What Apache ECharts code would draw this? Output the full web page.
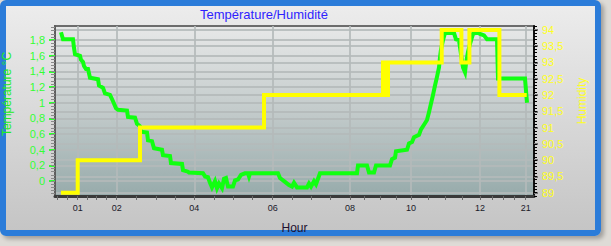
<!DOCTYPE html>
<html>
<head>
<meta charset="utf-8">
<script src="https://cdn.jsdelivr.net/npm/echarts@6/dist/echarts.min.js"></script>
<style>
  html, body { margin: 0; padding: 0; width: 611px; height: 246px; background: #dedbd6; overflow: hidden; }
  #frame { position: absolute; left: 0; top: 0; width: 601px; height: 236px; box-sizing: border-box;
           border: 6px solid #2b7cd9; border-radius: 6px;
           background: linear-gradient(#ececec, #c5c5c5);
           box-shadow: 3px 3px 4px rgba(0,0,0,0.28); }
  #chart { position: absolute; left: 0; top: 0; width: 611px; height: 246px; }
</style>
</head>
<body>
<div id="frame"></div>
<div id="chart"></div>
<script>
// ---- data (x = sample number along the logger's record) ----
const tempSample = [3,4,9,9.5,10,12.5,13,14,14.5,15.5,16.5,17.5,21.5,22,24,25,27.5,29,30.5,31.5,36,36.5,40,41,42.5,43,46,46.5,48.5,49.5,53.5,54,57.5,58,63.5,64,66.5,67,74,75,76.5,77.5,78.5,80,81,82,83.5,84.5,85.5,86.5,89,90,91.5,93,95,96.5,97,97.5,111.5,112.5,115,117,118.5,119.5,121,126,127,128,129.5,130.5,131.5,132.5,151,151.5,156,157,159.5,160.5,167.5,168.5,170,170.5,176,177,178.5,179.5,182,183,184.5,186,187,188,189,190,191,192,192.5,193,194,195,199.5,200.5,202,203,204,205,205.5,206.5,207.5,209,211,212.5,214.5,216,221,221.5,235,236];
const tempValue  = [1.90,1.81,1.81,1.70,1.62,1.60,1.55,1.52,1.47,1.43,1.43,1.32,1.30,1.22,1.19,1.12,1.10,1.02,0.93,0.91,0.90,0.82,0.81,0.73,0.70,0.63,0.62,0.52,0.51,0.42,0.40,0.33,0.32,0.23,0.22,0.14,0.12,0.11,0.10,0.06,0.05,-0.02,-0.08,0.00,-0.09,-0.03,-0.09,0.03,0.04,-0.07,-0.07,0.01,0.02,0.08,0.10,0.10,0.06,0.10,0.10,0.04,-0.01,-0.05,-0.07,-0.02,-0.08,-0.08,-0.03,-0.07,0.00,-0.04,0.03,0.10,0.10,0.20,0.20,0.11,0.11,0.20,0.20,0.28,0.30,0.38,0.40,0.48,0.50,0.56,0.59,0.66,0.72,0.78,0.88,0.99,1.10,1.22,1.33,1.45,1.58,1.68,1.80,1.89,1.89,1.81,1.80,1.62,1.45,1.39,1.50,1.65,1.75,1.88,1.90,1.88,1.86,1.81,1.81,1.31,1.31,1.00];

const humSample = [3,11.35,42.5,104.5,164,165.5,166.5,193.35,203.2,207.2,222.2,235.85];
const humValue  = [89,90,91,92,93,92,93,94,93,94,92,92];

const hourTickSample = [11.35,30.85,69.65,108.85,147.5,178,212.5,235.35];
const hourLabels     = ['01','02','04','06','08','10','12','21'];
const minorTickSample = [1.15,6.15,11.35,16.15,20.85,25.85,30.85,40.85,50.5,60.15,69.85,79.5,89.15,98.85,108.85,118.5,128.35,137.85,147.5,154.85,162.5,170.5,178,186.65,195.35,203.85,212.5,218.5,224.15,229.85,235.35];

const tempTicks = [0,0.2,0.4,0.6,0.8,1,1.2,1.4,1.6,1.8];
const humTicks  = [89,89.5,90,90.5,91,91.5,92,92.5,93,93.5,94];

// ---- build ----
const tempData = tempSample.map((s, i) => [s, tempValue[i]]);
const humData  = humSample.map((s, i) => [s, humValue[i]]);
const tempMinor = [], humMinor = [];
for (let k = -4; k <= 49; k++) tempMinor.push(+(k * 0.04).toFixed(2));
for (let k = 889; k <= 941; k++) humMinor.push(+(k * 0.1).toFixed(1));
const comma = v => String(Math.round(v * 10) / 10).replace('.', ',');
const FONT = 'Liberation Sans, Arial, sans-serif';
const GRIDLINE = { show: true, lineStyle: { color: 'rgba(180,186,186,0.85)', width: 2 } };

const chart = echarts.init(document.getElementById('chart'), null, { renderer: 'svg' });
chart.setOption({
  animation: false,
  backgroundColor: 'transparent',
  title: {
    text: 'Température/Humidité', left: 200, top: 8, padding: 0,
    textStyle: { color: '#2f1fff', fontSize: 13, fontWeight: 'normal', fontFamily: FONT }
  },
  graphic: [
    { type: 'text', x: 7, y: 94, rotation: Math.PI / 2,
      style: { text: 'Température °C', fill: '#22ee22', font: '12px ' + FONT, align: 'center', verticalAlign: 'middle' } },
    { type: 'text', x: 582, y: 101, rotation: Math.PI / 2,
      style: { text: 'Humidity', fill: '#ffff22', font: '12px ' + FONT, align: 'center', verticalAlign: 'middle' } }
  ],
  grid: {
    left: 55, right: 77, top: 26, bottom: 50, show: true,
    borderColor: '#6c6c6c', borderWidth: 2,
    backgroundColor: { type: 'linear', x: 0, y: 0, x2: 0, y2: 1,
      colorStops: [{ offset: 0, color: '#e7e8e8' }, { offset: 0.5, color: '#c3cbcb' }, { offset: 1, color: '#97abab' }] }
  },
  xAxis: [
    { type: 'value', min: 0, max: 239.5, position: 'bottom',
      name: 'Hour', nameLocation: 'middle', nameGap: 26,
      nameTextStyle: { color: '#1e1030', fontSize: 12, fontFamily: FONT },
      axisLine: { show: true, onZero: false, lineStyle: { color: '#3a3a3a', width: 3 } },
      axisTick: { show: false, customValues: hourTickSample },
      axisLabel: { customValues: hourTickSample, color: '#1a1a2a', fontSize: 9, fontFamily: FONT, margin: 7,
        formatter: v => { const i = hourTickSample.findIndex(p => Math.abs(p - v) < 1e-6); return i >= 0 ? hourLabels[i] : ''; } },
      splitLine: GRIDLINE },
    { type: 'value', min: 0, max: 239.5, position: 'bottom',
      axisLine: { show: false, onZero: false },
      axisTick: { show: true, customValues: minorTickSample, length: 4, lineStyle: { color: '#6a6a6a', width: 1 } },
      axisLabel: { show: false }, splitLine: { show: false } }
  ],
  yAxis: [
    { type: 'value', min: -0.19, max: 1.98, position: 'left',
      axisLine: { show: true, onZero: false, lineStyle: { color: '#5e5e5e', width: 2 } },
      axisTick: { show: true, customValues: tempTicks, length: 6, lineStyle: { color: '#33ff33', width: 2 } },
      axisLabel: { customValues: tempTicks, color: '#33ff33', fontSize: 11, fontFamily: FONT, margin: 10, formatter: comma },
      splitLine: GRIDLINE },
    { type: 'value', min: 88.9, max: 94.12, position: 'right',
      axisLine: { show: true, onZero: false, lineStyle: { color: '#111', width: 2 } },
      axisTick: { show: true, customValues: humTicks, length: 4, lineStyle: { color: '#777', width: 2 } },
      axisLabel: { customValues: humTicks, color: '#ffff22', fontSize: 11, fontFamily: FONT, margin: 8, formatter: comma },
      splitLine: GRIDLINE },
    { type: 'value', min: -0.19, max: 1.98, position: 'left',
      axisLine: { show: false, onZero: false },
      axisTick: { show: true, customValues: tempMinor, length: 4, lineStyle: { color: '#8a8a8a', width: 1 } },
      axisLabel: { show: false }, splitLine: { show: false } },
    { type: 'value', min: 88.9, max: 94.12, position: 'right',
      axisLine: { show: false, onZero: false },
      axisTick: { show: true, customValues: humMinor, length: 3, lineStyle: { color: '#000', width: 1 } },
      axisLabel: { show: false }, splitLine: { show: false } }
  ],
  series: [
    { name: 'Température', type: 'line', xAxisIndex: 0, yAxisIndex: 0, data: tempData,
      showSymbol: false, symbol: 'none', lineStyle: { color: '#11ff11', width: 4, join: 'miter' }, z: 3 },
    { name: 'Humidité', type: 'line', xAxisIndex: 0, yAxisIndex: 1, data: humData, step: 'end',
      showSymbol: false, symbol: 'none', lineStyle: { color: '#ffff00', width: 4, join: 'miter' }, z: 4 }
  ]
});
</script>
</body>
</html>
